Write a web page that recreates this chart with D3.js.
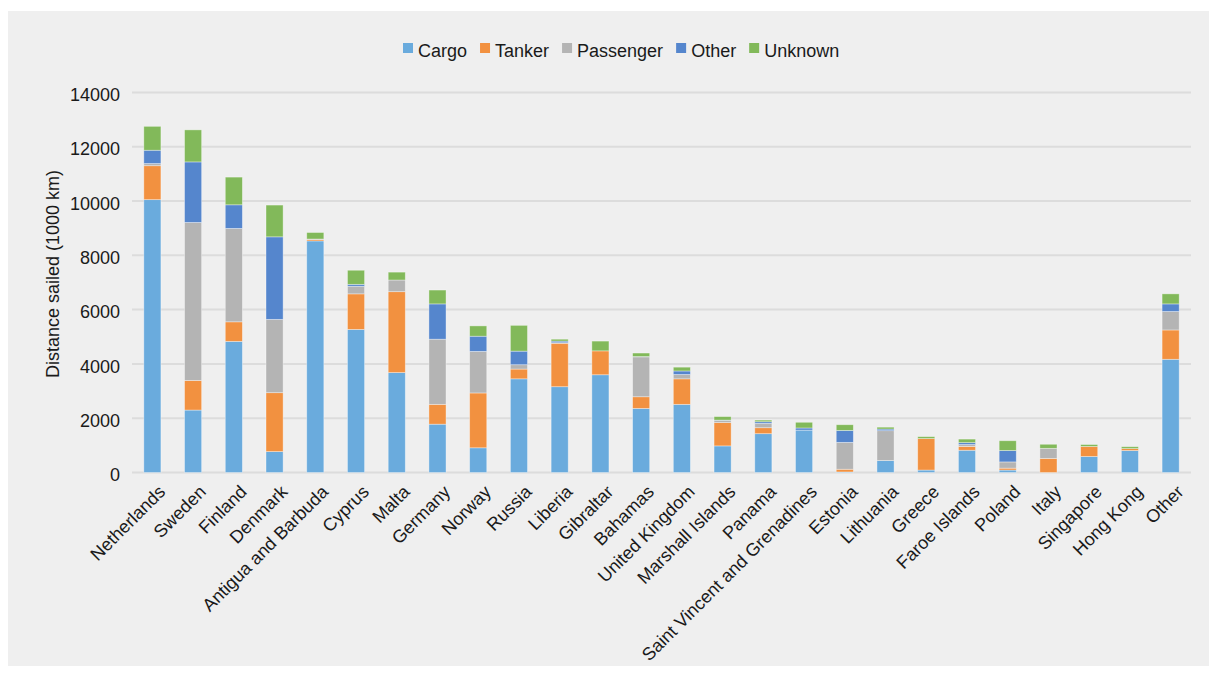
<!DOCTYPE html>
<html>
<head>
<meta charset="utf-8">
<script src="https://cdn.jsdelivr.net/npm/d3@7"></script>
<style>
  body { margin: 0; background: #fff; }
  text { font-family: "Liberation Sans", Arial, sans-serif; fill: #1a1a1a; }
</style>
</head>
<body>
<div id="chart"></div>
<script>
// values, 1000 km sailed
var countries = ["Netherlands", "Sweden", "Finland", "Denmark", "Antigua and Barbuda", "Cyprus", "Malta",
  "Germany", "Norway", "Russia", "Liberia", "Gibraltar", "Bahamas", "United Kingdom", "Marshall Islands",
  "Panama", "Saint Vincent and Grenadines", "Estonia", "Lithuania", "Greece", "Faroe Islands", "Poland",
  "Italy", "Singapore", "Hong Kong", "Other"];
var cargo     = [10050, 2300, 4830,  770, 8530, 5270, 3680, 1780,  910, 3450, 3160, 3600, 2360, 2510,  980, 1430, 1560,   20,  440,   90, 820,  90,   0, 590, 810, 4170];
var tanker    = [ 1250, 1090,  720, 2170,   50, 1310, 2980,  730, 2020,  360, 1600,  880,  430,  940,  860,  220,    0,  100,    0, 1160, 140,  70, 520, 370,  70, 1080];
var passenger = [   80, 5820, 3440, 2700,   20,  280,  430, 2400, 1530,  160,   20,    0, 1470,  160,   80,  160,    0,  990, 1100,    0,  70, 230, 370,   0,   0,  680];
var other     = [  490, 2230,  870, 3040,    0,   70,    0, 1300,  560,  500,   60,    0,   10,  130,   10,   60,   80,  440,   60,    0,  70, 420,   0,   0,   0,  280];
var unknown   = [  880, 1180, 1020, 1170,  240,  520,  290,  510,  380,  950,   70,  360,  130,  140,  130,   60,  210,  210,   70,   70, 130, 360, 150,  70,  70,  370];
var seriesNames = ["Cargo", "Tanker", "Passenger", "Other", "Unknown"];
var seriesColors = ["#6aabdd", "#f29140", "#b4b4b4", "#5586cd", "#82b95a"];
var yTicks = [0, 2000, 4000, 6000, 8000, 10000, 12000, 14000];

var svgWidth = 1215;
var svgHeight = 675;

var svg = d3.select("#chart")
  .append("svg")
  .attr("width", svgWidth)
  .attr("height", svgHeight);

// grey panel
svg.append("rect")
  .attr("x", 8).attr("y", 11)
  .attr("width", 1201).attr("height", 655)
  .attr("fill", "#efefef");

var rows = countries.map(function(c, i) {
  return { country: c, Cargo: cargo[i], Tanker: tanker[i], Passenger: passenger[i],
           Other: other[i], Unknown: unknown[i] };
});

var xScale = d3.scaleBand()
  .domain(countries)
  .range([132, 1191])
  .paddingInner(0.58)
  .paddingOuter(0.29);

var yScale = d3.scaleLinear()
  .domain([0, 14000])
  .range([472.5, 92.4]);

// gridlines
svg.append("g")
  .selectAll("line")
  .data(yTicks)
  .enter()
  .append("line")
  .attr("x1", 132)
  .attr("x2", 1191)
  .attr("y1", function(d) { return yScale(d); })
  .attr("y2", function(d) { return yScale(d); })
  .attr("stroke", "#dcdcdc")
  .attr("stroke-width", 2);

// y axis labels (no thousands separator)
var yAxis = d3.axisLeft(yScale).tickValues(yTicks).tickFormat(d3.format("d")).tickSize(0).tickPadding(12);
var yG = svg.append("g")
  .attr("transform", "translate(132,0)")
  .call(yAxis);
yG.select(".domain").remove();
yG.selectAll("text")
  .attr("font-size", 18)
  .attr("font-family", "Liberation Sans, Arial, sans-serif")
  .attr("fill", "#1a1a1a")
  .attr("dy", "0.45em");

svg.append("text")
  .attr("transform", "translate(59,274) rotate(-90)")
  .attr("text-anchor", "middle")
  .attr("font-size", 18)
  .text("Distance sailed (1000 km)");

// stacked bars
var stack = d3.stack().keys(seriesNames);
var layers = stack(rows);

svg.append("g")
  .selectAll("g")
  .data(layers)
  .enter()
  .append("g")
  .attr("fill", function(d, i) { return seriesColors[i]; })
  .selectAll("rect")
  .data(function(d) { return d; })
  .enter()
  .append("rect")
  .attr("x", function(d) { return xScale(d.data.country); })
  .attr("width", xScale.bandwidth())
  .attr("y", function(d) { return yScale(d[1]); })
  .attr("height", function(d) { return yScale(d[0]) - yScale(d[1]); })
  .attr("stroke", "rgba(255,255,255,0.45)")
  .attr("stroke-width", function(d) { return d[1] > d[0] ? 0.8 : 0; });

// rotated category labels
svg.append("g")
  .selectAll("text")
  .data(countries)
  .enter()
  .append("text")
  .attr("transform", function(d) {
    var cx = xScale(d) + xScale.bandwidth() / 2;
    return "translate(" + (cx + 14) + ",493) rotate(-45)";
  })
  .attr("text-anchor", "end")
  .attr("font-size", 18)
  .text(function(d) { return d; });

// legend
var legend = svg.append("g");
var lx = 403;
seriesNames.forEach(function(name, i) {
  legend.append("rect")
    .attr("x", lx).attr("y", 43)
    .attr("width", 10).attr("height", 10)
    .attr("fill", seriesColors[i]);
  var t = legend.append("text")
    .attr("x", lx + 15)
    .attr("y", 57)
    .attr("font-size", 18)
    .text(name);
  lx = lx + 15 + t.node().getComputedTextLength() + 13;
});
</script>
</body>
</html>
